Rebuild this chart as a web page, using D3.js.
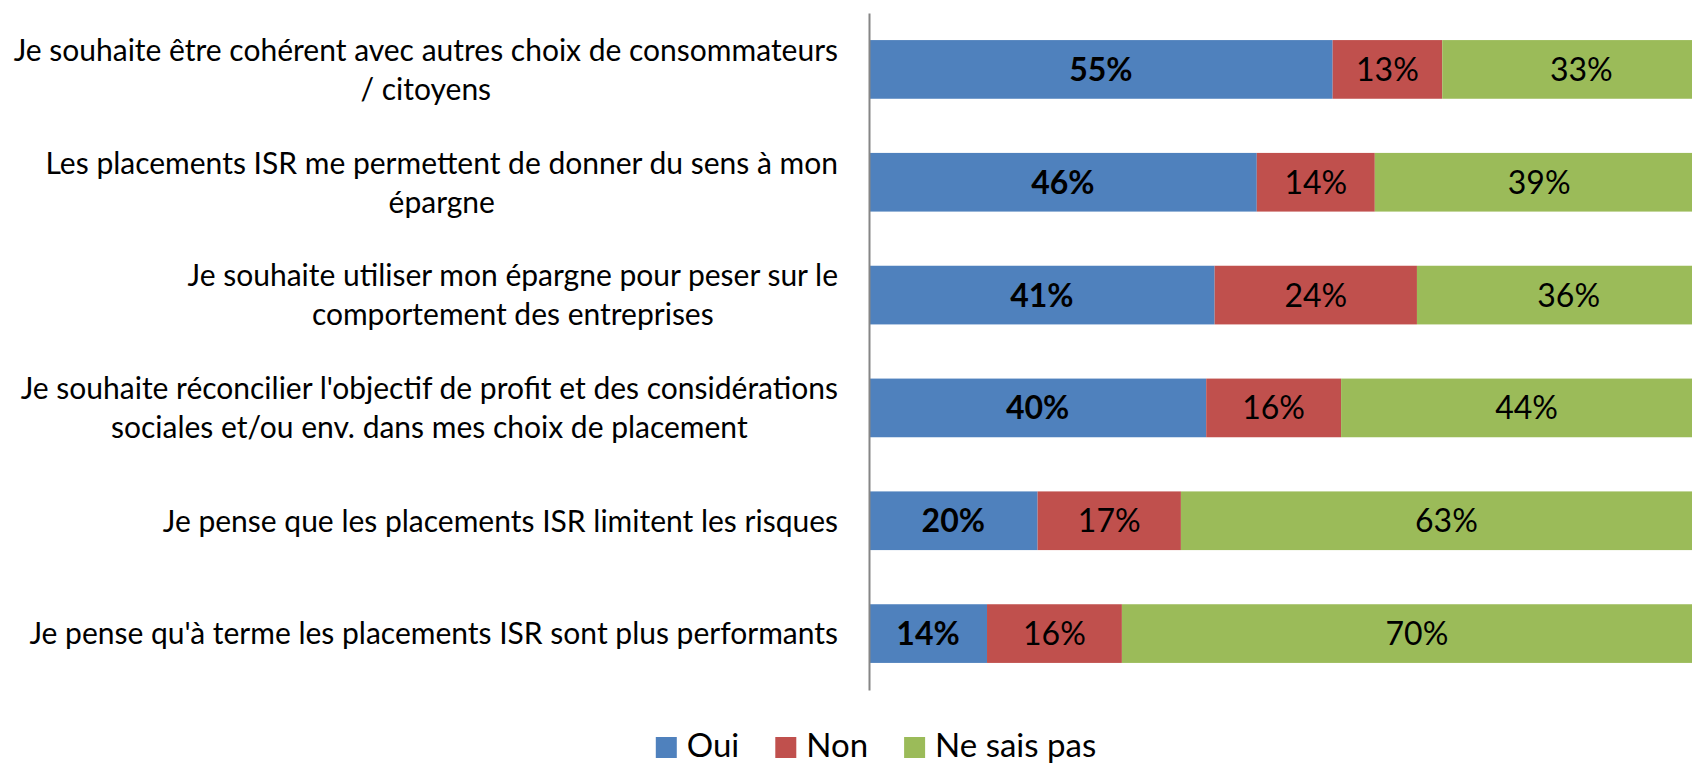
<!DOCTYPE html>
<html>
<head>
<meta charset="utf-8">
<script src="https://cdn.jsdelivr.net/npm/d3@7"></script>
<style>
  body { margin: 0; background: #fff; }
  svg { display: block; font-family: Lato, "Open Sans", sans-serif; }
</style>
</head>
<body>
<script>
// categories, line breaks as in the original chart
var categories = [
  "Je souhaite être cohérent avec autres choix de consommateurs\n/ citoyens",
  "Les placements ISR me permettent de donner du sens à mon\népargne",
  "Je souhaite utiliser mon épargne pour peser sur le\ncomportement des entreprises",
  "Je souhaite réconcilier l'objectif de profit et des considérations\nsociales et/ou env. dans mes choix de placement",
  "Je pense que les placements ISR limitent les risques",
  "Je pense qu'à terme les placements ISR sont plus performants"
];
var oui = [55, 46, 41, 40, 20, 14];
var non = [13, 14, 24, 16, 17, 16];
var nsp = [33, 39, 36, 44, 63, 70];
var seriesNames = ["Oui", "Non", "Ne sais pas"];
var colors = ["#4F81BD", "#C0504D", "#9BBB59"];

var width = 1692, height = 766;

var rows = categories.map(function(c, i) {
  return { cat: c, Oui: oui[i], Non: non[i], "Ne sais pas": nsp[i] };
});

var svg = d3.select('body').append('svg')
            .attr('width', width)
            .attr('height', height);

svg.append('rect').attr('width', width).attr('height', height).attr('fill', '#fff');

var x = d3.scaleLinear().domain([0, 100]).range([869, 1712]);
var y = d3.scaleBand().domain(categories).range([13, 690])
          .paddingInner(0.48).paddingOuter(0.24);

var stack = d3.stack().keys(seriesNames)(rows);

var layers = svg.selectAll('g.layer')
  .data(stack)
  .enter().append('g')
  .attr('class', 'layer')
  .attr('fill', function(d, i) { return colors[i]; });

layers.selectAll('rect')
  .data(function(d) { return d; })
  .enter().append('rect')
  .attr('x', function(d) { return x(d[0]); })
  .attr('y', function(d) { return y(d.data.cat); })
  .attr('width', function(d) { return x(d[1]) - x(d[0]); })
  .attr('height', y.bandwidth());

// value labels
layers.each(function(layer, li) {
  d3.select(this).selectAll('text')
    .data(layer)
    .enter().append('text')
    .attr('x', function(d) { return (x(d[0]) + x(d[1])) / 2; })
    .attr('y', function(d) { return y(d.data.cat) + y.bandwidth() / 2; })
    .attr('dy', '0.36em')
    .attr('text-anchor', 'middle')
    .attr('fill', '#000')
    .style('font-size', '32px')
    .style('font-weight', li === 0 ? 'bold' : 'normal')
    .text(function(d) { return (d[1] - d[0]) + '%'; });
});

// vertical axis
var axis = svg.append('g')
  .attr('transform', 'translate(869,0)')
  .call(d3.axisLeft(y).tickSize(0).tickFormat(''));
axis.select('.domain').attr('stroke', '#868686').attr('stroke-width', 2);

// category labels, block right-aligned, lines centred
var lineH = 39;
categories.forEach(function(c) {
  var lines = c.split('\n');
  var g = svg.append('g');
  var texts = lines.map(function(l, k) {
    return g.append('text')
      .attr('y', y(c) + y.bandwidth() / 2 + (k - (lines.length - 1) / 2) * lineH)
      .attr('dy', '0.36em')
      .attr('text-anchor', 'middle')
      .attr('fill', '#000')
      .style('font-size', '30px')
      .text(l);
  });
  var maxW = d3.max(texts, function(t) { return t.node().getComputedTextLength(); });
  texts.forEach(function(t) { t.attr('x', 838 - maxW / 2); });
});

// legend
var legend = svg.append('g');
var lx = 0;
seriesNames.forEach(function(s, i) {
  legend.append('rect')
    .attr('x', lx).attr('y', 737)
    .attr('width', 21).attr('height', 21)
    .attr('fill', colors[i]);
  var t = legend.append('text')
    .attr('x', lx + 31).attr('y', 757)
    .attr('fill', '#000')
    .style('font-size', '33px')
    .text(s);
  lx += 31 + t.node().getComputedTextLength() + 36;
});
var legW = lx - 36;
legend.attr('transform', 'translate(' + (876 - legW / 2) + ',0)');
</script>
</body>
</html>
